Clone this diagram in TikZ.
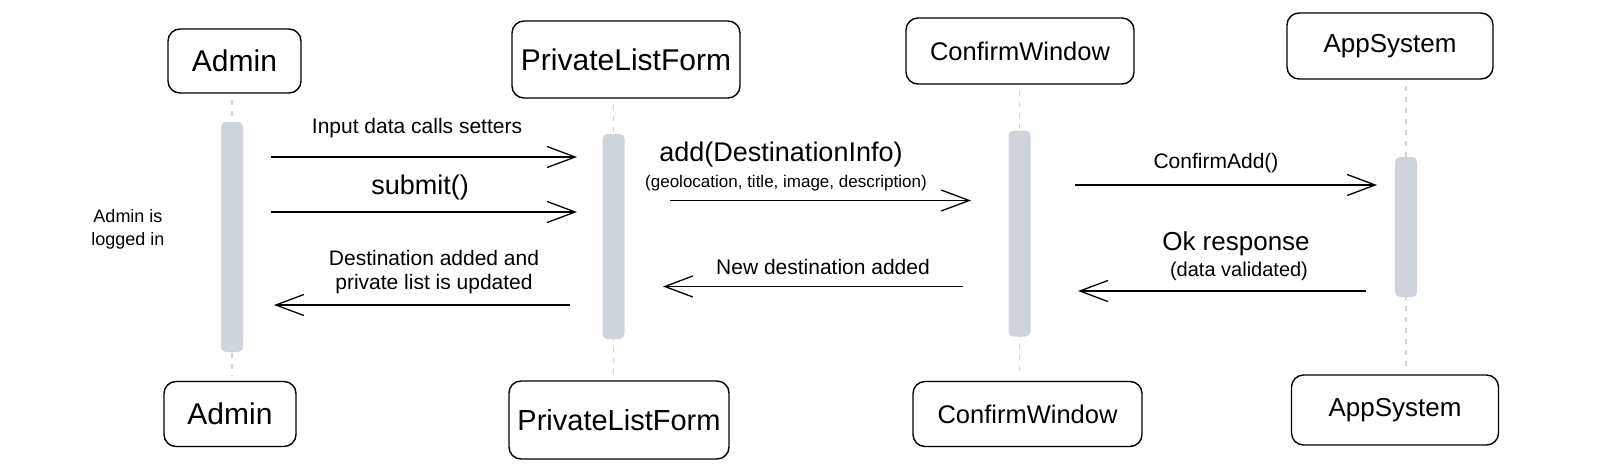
\documentclass[tikz,border=0pt]{standalone}
\usepackage{fontspec}
\setmainfont{Liberation Sans}
\usetikzlibrary{arrows.meta,calc}
\definecolor{barc}{HTML}{CED4DA}
\newcommand{\fsz}[2]{\fontsize{#1pt}{#2pt}\selectfont}
\pgfdeclarelayer{bg}
\pgfsetlayers{bg,main}
\tikzset{
  actor/.style={draw, line width=1.4pt, rounded corners=12pt, inner sep=0pt, align=center},
  actbar/.style={fill=barc, draw=none, rounded corners=5pt, minimum width=22pt, inner sep=0pt},
  life/.style={draw=barc, line width=1.5pt, dash pattern=on 5pt off 6pt},
  msg/.style={line width=1.3pt, -{Straight Barb[length=28pt,width=21pt,line width=1.3pt]}},
  lbl/.style={inner sep=0pt, align=center},
}
\begin{document}
\begin{tikzpicture}[x=1pt,y=-1pt]
\begin{pgfonlayer}{bg}
\fill[white] (0,0) rectangle (1597,474);
\end{pgfonlayer}
\useasboundingbox (0,0) rectangle (1597,474);

% actors top
\node[actor, minimum width=133pt, minimum height=64pt, font=\fsz{30}{36}] (a1) at (234.5,61) {Admin};
\node[actor, minimum width=228pt, minimum height=77pt, font=\fsz{30}{36}] (p1) at (626,59.5) {PrivateListForm};
\node[actor, minimum width=228pt, minimum height=66pt, font=\fsz{25.5}{30}] (c1) at (1020,51) {ConfirmWindow};
\node[actor, minimum width=206pt, minimum height=66pt, font=\fsz{26}{31}] (s1) at (1390,46) {AppSystem};

% actors bottom
\node[actor, minimum width=132pt, minimum height=65pt, font=\fsz{30}{36}] (a2) at (230,414) {Admin};
\node[actor, minimum width=220pt, minimum height=78pt, font=\fsz{29}{35}] (p2) at (619,420) {PrivateListForm};
\node[actor, minimum width=229pt, minimum height=65pt, font=\fsz{25.5}{30}] (c2) at (1027.5,414) {ConfirmWindow};
\node[actor, minimum width=207pt, minimum height=70pt, font=\fsz{26}{31}] (s2) at (1395,410) {AppSystem};

% activation bars
\node[actbar, minimum height=230pt] (ab) at (232,237) {};
\node[actbar, minimum height=205pt] (pb) at (613.5,236.5) {};
\node[actbar, minimum height=206pt] (cb) at (1019.5,233.5) {};
\node[actbar, minimum height=140pt] (sb) at (1406,227) {};

% lifelines
\begin{pgfonlayer}{bg}
\draw[life, shorten <=6pt, shorten >=6pt] (a1.south -| ab) -- (a2.north -| ab);
\draw[life, shorten <=6pt, shorten >=6pt] (p1.south -| pb) -- (p2.north -| pb);
\draw[life, shorten <=6pt, shorten >=6pt] (c1.south -| cb) -- (c2.north -| cb);
\draw[life, shorten <=6pt, shorten >=6pt] (s1.south -| sb) -- (s2.north -| sb);
\end{pgfonlayer}

% message end points
\coordinate (m1s) at (271,157); \coordinate (m1e) at (577,157);
\coordinate (m2s) at (271,212); \coordinate (m2e) at (577,212);
\coordinate (m3s) at (670,200.5); \coordinate (m3e) at (971,200.5);
\coordinate (m4s) at (1075,185); \coordinate (m4e) at (1377,185);
\coordinate (m5s) at (1366,291); \coordinate (m5e) at (1078,291);
\coordinate (m6s) at (963,286.5); \coordinate (m6e) at (663,286.5);
\coordinate (m7s) at (570,305); \coordinate (m7e) at (274,305);

\draw[msg] (m1s) -- (m1e);
\draw[msg] (m2s) -- (m2e);
\draw[msg] (m3s) -- (m3e);
\draw[msg] (m4s) -- (m4e);
\draw[msg] (m5s) -- (m5e);
\draw[msg] (m6s) -- (m6e);
\draw[msg] (m7s) -- (m7e);

% labels
\node[lbl, font=\fsz{21}{25}] (l1) at (417,128) {Input data calls setters};
\node[lbl, font=\fsz{27}{32}] (l2) at (420,188) {submit()};
\node[lbl, font=\fsz{27}{32}] (l3) at (781,155) {add(DestinationInfo)};
\node[lbl, font=\fsz{17}{20}] (l3b) at (786,183) {(geolocation, title, image, description)};
\node[lbl, font=\fsz{21}{25}] (l4) at (1216,163) {ConfirmAdd()};
\node[lbl, font=\fsz{26}{31}] (l5) at (1236,244) {Ok response};
\node[lbl, font=\fsz{20}{24}] (l5b) at (1239,271) {(data validated)};
\node[lbl, font=\fsz{21}{25}] (l6) at (823,267) {New destination added};
\node[lbl, font=\fsz{21}{23.5}] (l7) at (434,272) {Destination added and\\private list is updated};
\node[lbl, font=\fsz{18}{23}] (n1) at (128,229) {Admin is\\logged in};
\end{tikzpicture}
\end{document}
